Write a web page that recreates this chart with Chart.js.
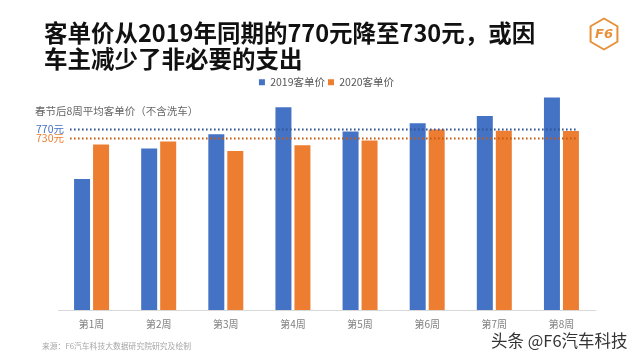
<!DOCTYPE html>
<html>
<head>
<meta charset="utf-8">
<script src="https://cdn.jsdelivr.net/npm/chart.js@4.4.1/dist/chart.umd.min.js"></script>
<style>
  html, body { margin: 0; padding: 0; background: #ffffff; }
  #wrap { position: relative; width: 640px; height: 360px; }
  canvas { display: block; }
</style>
</head>
<body>
<div id="wrap"><canvas id="c" width="640" height="360"></canvas></div>
<script>
// ---- data ----
const categories = ['第1周', '第2周', '第3周', '第4周', '第5周', '第6周', '第7周', '第8周'];
const seriesNames = ['2019客单价', '2020客单价'];
const values2019 = [556, 686, 746, 861, 758, 793, 824, 902];
const values2020 = [702, 715, 675, 699, 719, 766, 761, 760];
const refValues = [770, 730];
const refLabels = ['770元', '730元'];
const titleLines = ['客单价从2019年同期的770元降至730元，或因', '车主减少了非必要的支出'];
const subtitleText = '春节后8周平均客单价（不含洗车）';
const sourceText = '来源：F6汽车科技大数据研究院研究及绘制';
const watermarkText = '头条 @F6汽车科技';
const logoText = 'F6';

const FONT = '"Noto Sans CJK SC", "Noto Sans", sans-serif';
const BLUE = '#4472C4';
const ORANGE = '#ED7D31';

const decorPlugin = {
  id: 'decor',
  afterDatasetsDraw(chart) {
    const ctx = chart.ctx;
    const y = chart.scales.y;
    const area = chart.chartArea;
    const lineColors = ['#2F5597', '#C55A11'];
    const labelColors = ['#4472C4', '#ED7D31'];
    ctx.save();
    refValues.forEach((v, i) => {
      const py = Math.round(y.getPixelForValue(v)) + 0.5;
      ctx.beginPath();
      ctx.setLineDash([1.6, 2.4]);
      ctx.lineWidth = 2;
      ctx.strokeStyle = lineColors[i];
      ctx.moveTo(area.left + 12, py);
      ctx.lineTo(area.right - 18, py);
      ctx.stroke();
      ctx.setLineDash([]);
      ctx.fillStyle = labelColors[i];
      ctx.font = '10.5px ' + FONT;
      ctx.textAlign = 'left';
      ctx.textBaseline = 'middle';
      ctx.fillText(refLabels[i], 36, py);
    });
    ctx.restore();
  },
  afterDraw(chart) {
    const ctx = chart.ctx;
    ctx.save();
    // title
    ctx.fillStyle = '#111111';
    ctx.font = 'bold 23.5px ' + FONT;
    ctx.textAlign = 'left';
    ctx.textBaseline = 'middle';
    ctx.fillText(titleLines[0], 44, 33);
    ctx.fillText(titleLines[1], 44, 59.5);
    // subtitle
    ctx.fillStyle = '#666666';
    ctx.font = '10.5px ' + FONT;
    ctx.fillText(subtitleText, 35, 111.5);
    // source
    ctx.fillStyle = '#a6a6a6';
    ctx.font = '7.8px ' + FONT;
    ctx.fillText(sourceText, 42, 346);
    // watermark
    ctx.font = '16.5px ' + FONT;
    ctx.lineWidth = 2;
    ctx.strokeStyle = 'rgba(255,255,255,0.8)';
    ctx.strokeText(watermarkText, 491, 341);
    ctx.fillStyle = '#333333';
    ctx.fillText(watermarkText, 491, 341);
    // logo hexagon
    const cx = 604, cy = 34, r = 15.5;
    ctx.beginPath();
    for (let k = 0; k < 6; k++) {
      const a = Math.PI / 2 + k * Math.PI / 3;
      const px = cx + r * Math.cos(a), py = cy - r * Math.sin(a);
      if (k === 0) ctx.moveTo(px, py); else ctx.lineTo(px, py);
    }
    ctx.closePath();
    ctx.lineJoin = 'round';
    ctx.lineWidth = 2;
    ctx.strokeStyle = '#E8903A';
    ctx.stroke();
    ctx.fillStyle = '#E8903A';
    ctx.font = 'italic bold 13px "DejaVu Sans", sans-serif';
    ctx.textAlign = 'center';
    ctx.fillText(logoText, cx, cy + 1);
    ctx.restore();
  }
};

new Chart(document.getElementById('c'), {
  type: 'bar',
  data: {
    labels: categories,
    datasets: [
      { label: seriesNames[0], data: values2019, backgroundColor: BLUE,
        categoryPercentage: 0.566, barPercentage: 0.842, clip: false },
      { label: seriesNames[1], data: values2020, backgroundColor: ORANGE,
        categoryPercentage: 0.566, barPercentage: 0.842, clip: false }
    ]
  },
  options: {
    responsive: false,
    animation: false,
    devicePixelRatio: 1,
    layout: { padding: { left: 58, right: 45, top: 74, bottom: 22 } },
    plugins: {
      legend: {
        position: 'top',
        align: 'center',
        labels: {
          boxWidth: 6, boxHeight: 6, padding: 3,
          color: '#595959',
          font: { size: 10.5, family: FONT }
        }
      },
      title: { display: false },
      tooltip: { enabled: false }
    },
    scales: {
      x: {
        grid: { display: false, drawTicks: false },
        border: { display: true, color: '#d9d9d9', width: 1 },
        ticks: { color: '#7f7f7f', padding: 8, font: { size: 10, family: FONT } }
      },
      y: {
        display: false,
        min: 0,
        max: 902
      }
    }
  },
  plugins: [decorPlugin]
});
</script>
</body>
</html>
